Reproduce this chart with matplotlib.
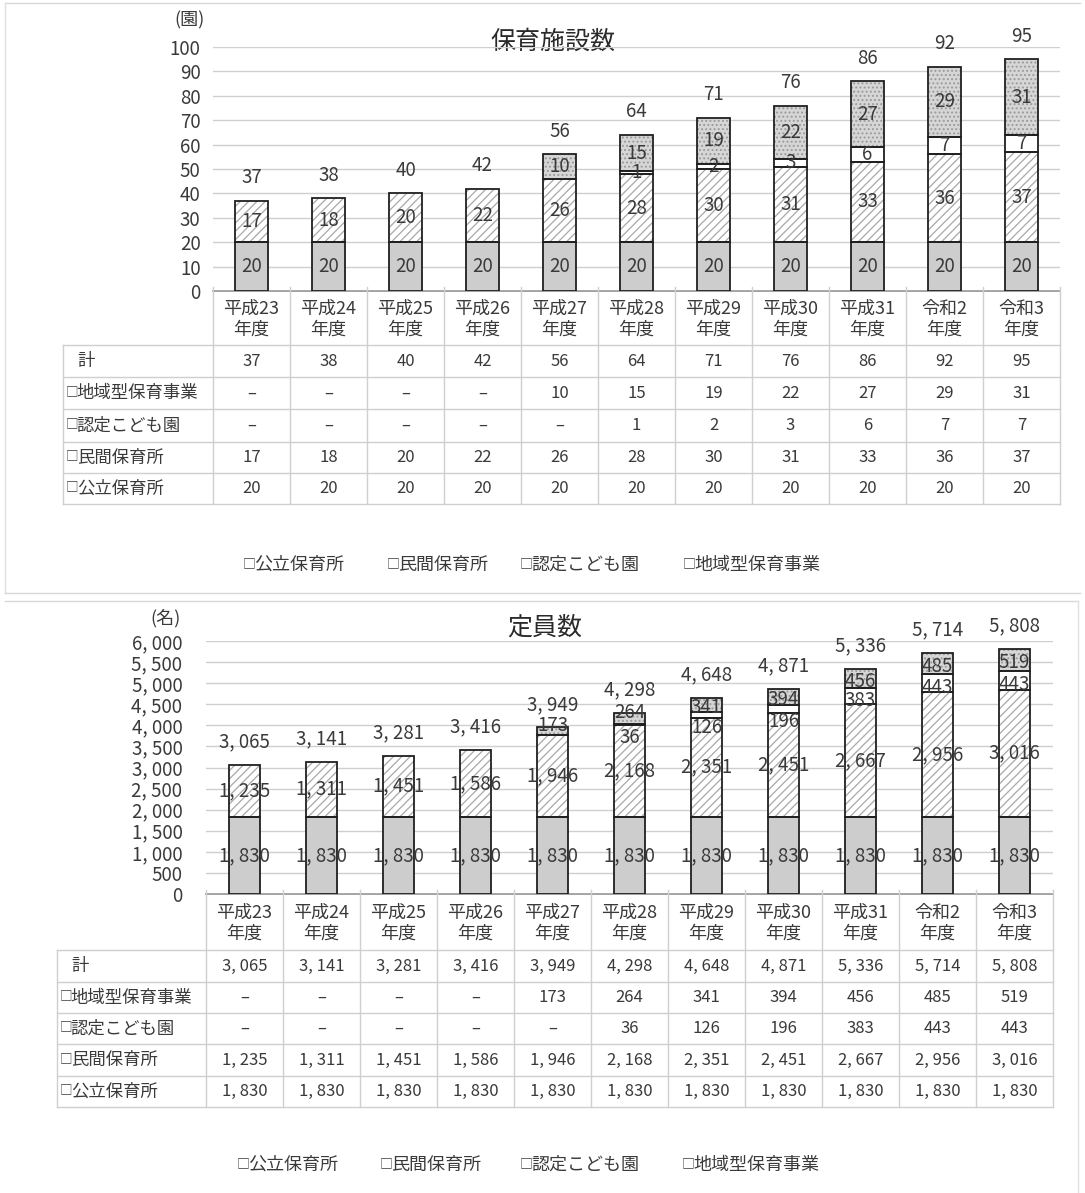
import numpy as np
import matplotlib
matplotlib.use("Agg")
import matplotlib.pyplot as plt

plt.rcParams['font.family'] = ['Noto Sans CJK JP', 'DejaVu Sans']
plt.rcParams['hatch.linewidth'] = 0.9

W, H = 1085, 1193

years = ['平成23\n年度', '平成24\n年度', '平成25\n年度', '平成26\n年度', '平成27\n年度',
         '平成28\n年度', '平成29\n年度', '平成30\n年度', '平成31\n年度', '令和2\n年度', '令和3\n年度']
series_names = ['公立保育所', '民間保育所', '認定こども園', '地域型保育事業']

# 保育施設数（園）
shisetsu_kouritsu = [20, 20, 20, 20, 20, 20, 20, 20, 20, 20, 20]
shisetsu_minkan = [17, 18, 20, 22, 26, 28, 30, 31, 33, 36, 37]
shisetsu_nintei = [0, 0, 0, 0, 0, 1, 2, 3, 6, 7, 7]
shisetsu_chiiki = [0, 0, 0, 0, 10, 15, 19, 22, 27, 29, 31]

# 定員数（名）
teiin_kouritsu = [1830, 1830, 1830, 1830, 1830, 1830, 1830, 1830, 1830, 1830, 1830]
teiin_minkan = [1235, 1311, 1451, 1586, 1946, 2168, 2351, 2451, 2667, 2956, 3016]
teiin_nintei = [0, 0, 0, 0, 0, 36, 126, 196, 383, 443, 443]
teiin_chiiki = [0, 0, 0, 0, 173, 264, 341, 394, 456, 485, 519]

styles = [
    dict(face='#cdcdcd', hatch=None, hcol='#cdcdcd'),
    dict(face='white', hatch='////', hcol='#a8a8a8'),
    dict(face='white', hatch=None, hcol='white'),
    dict(face='#d6d6d6', hatch='....', hcol='#9a9a9a'),
]

TXT = '#3a3a3a'
LINE = '#cfcfcf'


def fmt_num(v):
    return f'{v:,}'.replace(',', ', ')


def px_rect(x0, x1, ytop, ybot):
    return [x0 / W, 1 - ybot / H, (x1 - x0) / W, (ybot - ytop) / H]


def boxed_label(ov, x, y, name, size):
    # small square marker followed by the series name
    ov.text(x, y - 1.5, '□', ha='left', va='center', fontsize=size * 0.72, color=TXT)
    ov.text(x + size * 0.85, y, name, ha='left', va='center', fontsize=size, color=TXT)


def label_shift(k, v, small):
    # nudge the labels of the thin upper segments so they don't sit on each other
    if small is None:
        return 0
    if k == 2:
        return -9 if v < small else -3
    if k == 3:
        return 4 if v < small else -2
    return 0


def draw_chart(fig, ov, geo, layers, ymax, ystep, tickfmt, title, unit, small_shift=None):
    x0, x1, ytop, ybot = geo['x0'], geo['x1'], geo['ytop'], geo['ybot']
    ax = fig.add_axes(px_rect(x0, x1, ytop, ybot))
    ax.patch.set_alpha(0)
    n = len(years)
    x = np.arange(n)
    ax.set_xlim(-0.5, n - 0.5)
    ax.set_ylim(0, ymax)
    ax.set_yticks(np.arange(0, ymax + 1, ystep))
    ax.set_yticklabels([tickfmt(v) for v in np.arange(0, ymax + 1, ystep)])
    ax.tick_params(axis='y', length=0, pad=geo['pad'], labelsize=13.5, labelcolor=TXT)
    ax.set_xticks([])
    ax.grid(axis='y', color=LINE, linewidth=1.0, zorder=0)
    for s in ax.spines.values():
        s.set_visible(False)

    bottom = np.zeros(n)
    for k, (vals, st) in enumerate(zip(layers, styles)):
        vals = np.array(vals, dtype=float)
        m = vals > 0
        ax.bar(x[m], vals[m], geo['bw'], bottom=bottom[m], color=st['face'],
               hatch=st['hatch'], edgecolor=st['hcol'], linewidth=0, zorder=2)
        ax.bar(x[m], vals[m], geo['bw'], bottom=bottom[m], fill=False,
               edgecolor='#202020', linewidth=1.3, zorder=3)
        for i in np.where(m)[0]:
            dy = label_shift(k, vals[i], small_shift)
            ax.annotate(fmt_num(int(vals[i])), (x[i], bottom[i] + vals[i] / 2),
                        xytext=(0, dy), textcoords='offset points',
                        ha='center', va='center', fontsize=13.5, color=TXT, zorder=4)
        bottom += vals

    for i in range(n):
        ax.annotate(fmt_num(int(bottom[i])), (x[i], bottom[i]), xytext=(0, 16.5),
                    textcoords='offset points', ha='center', va='center',
                    fontsize=13.5, color=TXT, annotation_clip=False)

    ov.text(geo['title_x'], geo['title_y'], title, ha='center', va='center',
            fontsize=18, color='#2a2a2a')
    ov.text(geo['unit_x'], geo['unit_y'], unit, ha='center', va='center', fontsize=13, color=TXT)

    # data table under the bars
    cw = (x1 - x0) / n
    rows = geo['rows']
    lx = geo['lx']
    ov.plot([x0, x1], [ybot, ybot], color='#909090', lw=1.2)
    for r in rows[1:]:
        ov.plot([lx, x1], [r, r], color=LINE, lw=1.0)
    ov.plot([lx, lx], [rows[1], rows[-1]], color=LINE, lw=1.0)
    for i in range(n + 1):
        xc = x0 + i * cw
        ov.plot([xc, xc], [ybot - 4, rows[-1]], color=LINE, lw=1.0)
        if i < n:
            ov.text(xc + cw / 2, (rows[0] + rows[1]) / 2 + 1, years[i], ha='center',
                    va='center', fontsize=13, color=TXT, linespacing=1.2)

    totals = bottom.astype(int)
    table_rows = [('計', totals), ('地域型保育事業', layers[3]), ('認定こども園', layers[2]),
                  ('民間保育所', layers[1]), ('公立保育所', layers[0])]
    for j, (name, vals) in enumerate(table_rows):
        yc = (rows[j + 1] + rows[j + 2]) / 2
        if name == '計':
            ov.text(lx + 14, yc, name, ha='left', va='center', fontsize=12.5, color=TXT)
        else:
            boxed_label(ov, lx + 3, yc, name, 12.5)
        for i in range(n):
            s = fmt_num(int(vals[i])) if vals[i] > 0 else '–'
            ov.text(x0 + (i + 0.5) * cw, yc, s, ha='center', va='center',
                    fontsize=12, color=TXT)

    for xl, name in zip(geo['legend_x'], series_names):
        boxed_label(ov, xl, geo['legend_y'], name, 13)


fig = plt.figure(figsize=(W / 100, H / 100), dpi=100)
ov = fig.add_axes([0, 0, 1, 1])
ov.set_xlim(0, W)
ov.set_ylim(H, 0)
ov.axis('off')

# panel frames
ov.plot([5, 1080], [3, 3], color='#d8d8d8', lw=1)
ov.plot([5, 5], [3, 593], color='#e0e0e0', lw=1)
ov.plot([5, 1080], [593, 593], color='#d8d8d8', lw=1)
ov.plot([5, 1078], [601, 601], color='#d8d8d8', lw=1)
ov.plot([1078, 1078], [601, H], color='#e0e0e0', lw=1)

top_geo = dict(x0=213, x1=1060, ytop=47, ybot=291, bw=0.43, pad=9,
               rows=[291, 345, 377, 409, 442, 473, 504], lx=63,
               title_x=553, title_y=42, unit_x=190, unit_y=20,
               legend_x=[243, 387, 520, 683], legend_y=565)
draw_chart(fig, ov, top_geo,
           [shisetsu_kouritsu, shisetsu_minkan, shisetsu_nintei, shisetsu_chiiki],
           100, 10, lambda v: f'{int(v)}', '保育施設数', '(園)')

bot_geo = dict(x0=206, x1=1053, ytop=641, ybot=894, bw=0.41, pad=17,
               rows=[894, 950, 982, 1013, 1044, 1076, 1107], lx=57,
               title_x=545, title_y=628, unit_x=165, unit_y=618,
               legend_x=[237, 380, 520, 682], legend_y=1165)
draw_chart(fig, ov, bot_geo,
           [teiin_kouritsu, teiin_minkan, teiin_nintei, teiin_chiiki],
           6000, 500, lambda v: fmt_num(int(v)), '定員数', '(名)', small_shift=300)

fig.savefig('out.png', dpi=100, facecolor='white')
